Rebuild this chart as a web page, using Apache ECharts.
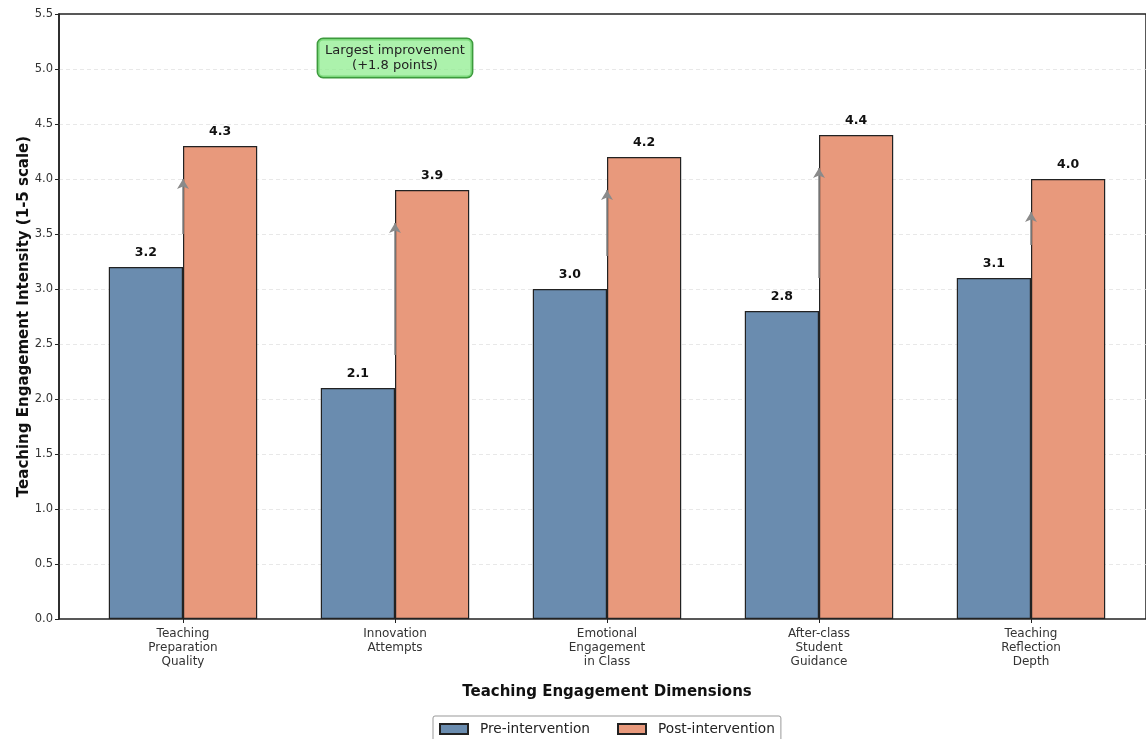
<!DOCTYPE html>
<html>
<head>
<meta charset="utf-8">
<script src="https://cdn.jsdelivr.net/npm/echarts@6/dist/echarts.min.js"></script>
<style>
  html, body { margin: 0; padding: 0; background: #fff; }
  #chart { width: 1146px; height: 739px; }
</style>
</head>
<body>
<div id="chart"></div>
<script>
// Teaching engagement scores before and after the intervention (1-5 scale)
const categories = [
  'Teaching\nPreparation\nQuality',
  'Innovation\nAttempts',
  'Emotional\nEngagement\nin Class',
  'After-class\nStudent\nGuidance',
  'Teaching\nReflection\nDepth'
];
const preValues = [3.2, 2.1, 3.0, 2.8, 3.1];
const postValues = [4.3, 3.9, 4.2, 4.4, 4.0];
const yTicks = { min: 0, max: 5.5, interval: 0.5 };
const seriesNames = ['Pre-intervention', 'Post-intervention'];

// improvement arrows run from just above the pre bar to just below the post bar
const arrowPad = 0.3;
const improvements = preValues.map((p, i) => +(postValues[i] - p).toFixed(1));
const bestIdx = improvements.indexOf(Math.max(...improvements));
const noteY = Math.max(...postValues) + 0.7;

const arrowLines = preValues.map((p, i) => [
  { coord: [i, p + arrowPad], symbol: 'none' },
  { coord: [i, postValues[i] - arrowPad], symbol: 'arrow' }
]);

const labelFont = { fontFamily: 'DejaVu Sans', color: '#333' };
const titleFont = { fontFamily: 'DejaVu Sans', fontSize: 15, fontWeight: 'bold', color: '#111' };
const valueLabel = {
  show: true, position: 'top', distance: 8, formatter: p => p.value.toFixed(1),
  fontFamily: 'DejaVu Sans', fontSize: 12.5, fontWeight: 'bold', color: '#111'
};

const chart = echarts.init(document.getElementById('chart'), null, { renderer: 'canvas' });

chart.setOption({
  backgroundColor: '#fff',
  animation: false,
  grid: [
    // bar area: one band per dimension
    { left: 77, width: 1060, top: 14, height: 605 },
    // frame and value gridlines
    { left: 59, width: 1096, top: 14, height: 605, show: true,
      borderColor: '#222', borderWidth: 1.5, backgroundColor: 'transparent' }
  ],
  xAxis: [
    {
      gridIndex: 0, type: 'category', data: categories,
      axisLine: { show: false },
      axisTick: { show: true, alignWithLabel: true, length: 4, lineStyle: { color: '#222' } },
      axisLabel: { ...labelFont, fontSize: 12, lineHeight: 14, margin: 8, interval: 0 },
      name: 'Teaching Engagement Dimensions', nameLocation: 'middle', nameGap: 66,
      nameMoveOverlap: false,
      nameTextStyle: titleFont
    },
    { gridIndex: 1, type: 'value', min: 0, max: 1, show: false }
  ],
  yAxis: [
    { gridIndex: 0, type: 'value', min: yTicks.min, max: yTicks.max, interval: yTicks.interval, show: false },
    {
      gridIndex: 1, type: 'value', min: yTicks.min, max: yTicks.max, interval: yTicks.interval,
      axisLine: { show: true, lineStyle: { color: '#222', width: 1.5 } },
      axisTick: { show: true, length: 4, lineStyle: { color: '#222' } },
      axisLabel: { ...labelFont, fontSize: 11.5, margin: 6, formatter: v => v.toFixed(1) },
      splitLine: { show: true, showMinLine: false, showMaxLine: false,
                   lineStyle: { color: '#e2e2e2', type: [4, 3], width: 0.8 } },
      name: 'Teaching Engagement Intensity (1-5 scale)', nameLocation: 'middle', nameGap: 27,
      nameMoveOverlap: false,
      nameTextStyle: titleFont
    }
  ],
  legend: {
    data: seriesNames, top: 716, left: 433,
    icon: 'rect', itemWidth: 28, itemHeight: 10, itemGap: 27,
    padding: [6, 6, 6, 6],
    borderColor: '#999', borderWidth: 1, borderRadius: 2,
    textStyle: { fontFamily: 'DejaVu Sans', fontSize: 13.7, color: '#222', padding: [0, 0, 0, 7] }
  },
  series: [
    {
      name: seriesNames[0], type: 'bar', xAxisIndex: 0, yAxisIndex: 0,
      data: preValues, barWidth: '35%', barGap: '0%',
      itemStyle: { color: '#6a8caf', borderColor: '#222', borderWidth: 1.2 },
      label: valueLabel
    },
    {
      name: seriesNames[1], type: 'bar', xAxisIndex: 0, yAxisIndex: 0,
      data: postValues, barWidth: '35%', barGap: '0%',
      itemStyle: { color: '#e8997c', borderColor: '#222', borderWidth: 1.2 },
      label: valueLabel
    },
    {
      // carries the improvement arrows and the note, placed at category centres
      name: 'notes', type: 'scatter', xAxisIndex: 0, yAxisIndex: 0, data: [],
      markLine: {
        silent: true, symbolSize: [9, 10], z: 10,
        label: { show: false },
        lineStyle: { color: '#8a8a8a', width: 1.6, type: 'solid' },
        data: arrowLines
      },
      markPoint: {
        silent: true, symbol: 'circle', symbolSize: 0, z: 12,
        data: [{ coord: [bestIdx, noteY] }],
        label: {
          show: true, position: 'inside',
          formatter: 'Largest improvement\n(+' + improvements[bestIdx].toFixed(1) + ' points)',
          fontFamily: 'DejaVu Sans', fontSize: 13, color: '#222', lineHeight: 15, align: 'center',
          backgroundColor: 'rgba(144,238,144,0.75)', borderColor: '#3d9a3d', borderWidth: 1.5,
          borderRadius: 5, padding: [4, 7, 4, 7]
        }
      }
    }
  ]
});
</script>
</body>
</html>
